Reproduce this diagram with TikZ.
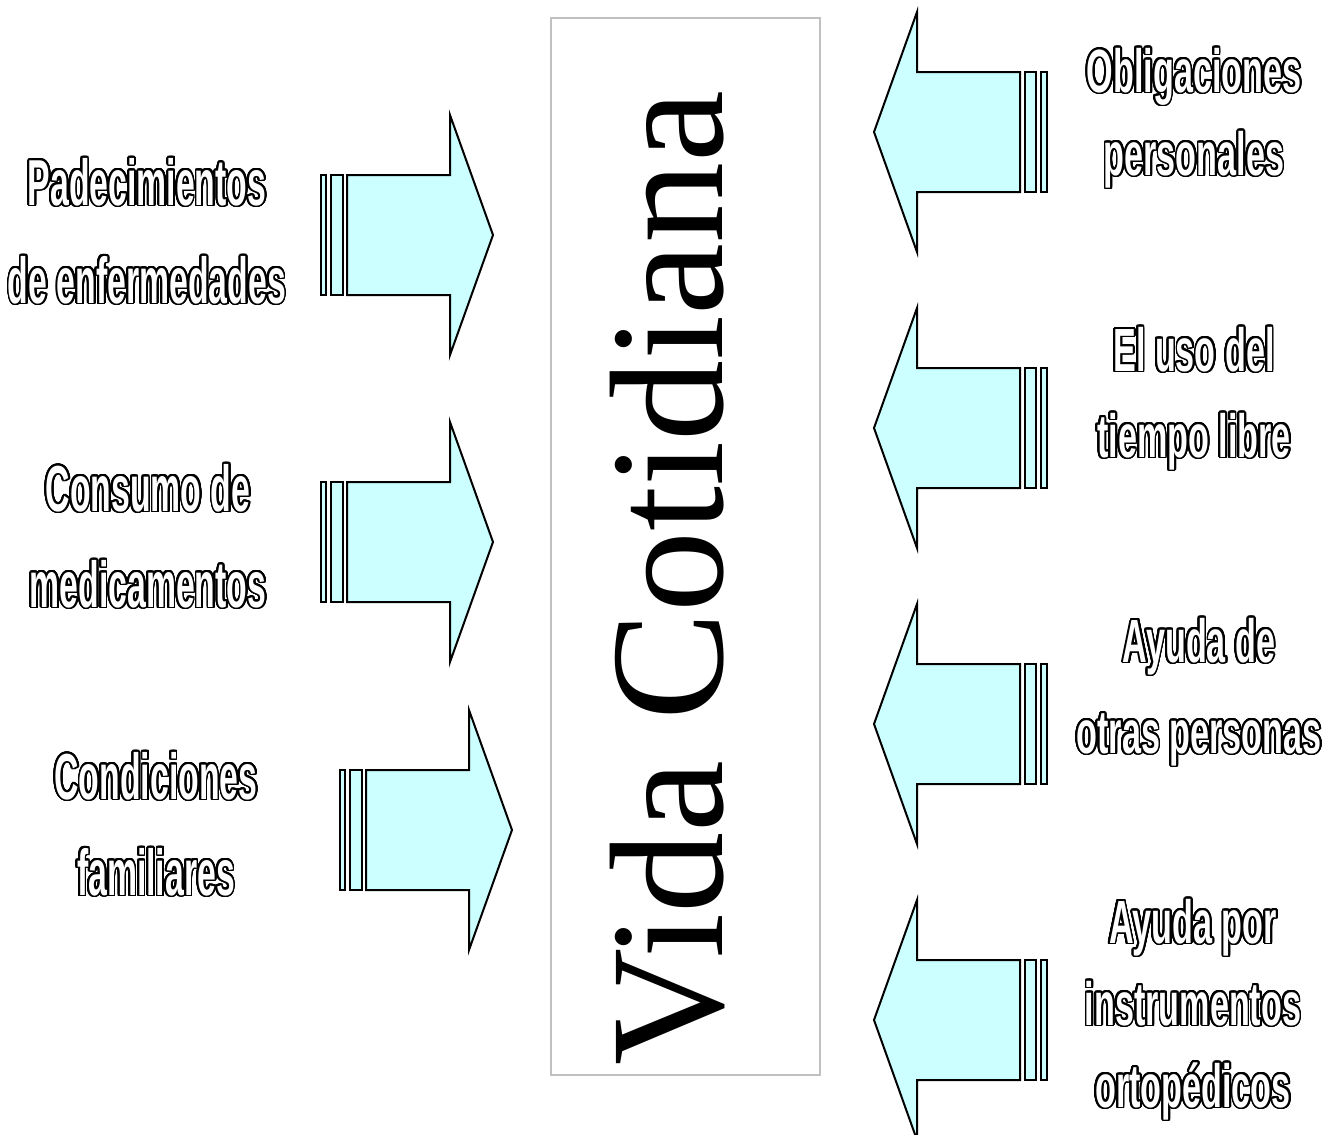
\documentclass[tikz,border=0pt]{standalone}
\usepackage{fontspec}
\usepackage{contour}
\setmainfont{Liberation Serif}
\newfontfamily\lblfontleft[FakeStretch=0.52]{Liberation Sans}
\newfontfamily\lblfontright[FakeStretch=0.56]{Liberation Sans}
\contourlength{0.9pt}
\contournumber{32}
\newcommand{\hollow}[1]{\contour{black}{#1}}
\definecolor{arrowcyan}{HTML}{CCFFFF}
\definecolor{framegray}{HTML}{C0C0C0}

\begin{document}
\begin{tikzpicture}[x=0.5pt, y=-0.5pt,
    lbl/.style={align=center, text=white, anchor=base, inner sep=0pt},
    lblleft/.style={lbl, font=\lblfontleft\bfseries\fontsize{32.5}{48}\selectfont},
    lblright/.style={lbl, font=\lblfontright\bfseries\fontsize{30.5}{43}\selectfont},
    blockarrow/.style={draw, fill=arrowcyan, line width=1pt, line join=miter}
]
\useasboundingbox (0,0) rectangle (1324,1135);

% central frame
\node[draw=framegray, line width=1pt, minimum width=134.5pt, minimum height=528.5pt, inner sep=0pt] (frame) at (685.5,546.5) {};
\node[rotate=90, anchor=base, inner sep=0pt, font=\fontsize{81}{90}\selectfont] (vida) at (722,578) {Vida Cotidiana};

% arrows from the left
\foreach \cy/\xo in {235/347, 542/347, 830/366} {
  \draw[blockarrow] (\xo-26,\cy-60) rectangle (\xo-21,\cy+60);
  \draw[blockarrow] (\xo-16,\cy-60) rectangle (\xo-4,\cy+60);
  \draw[blockarrow] (\xo,\cy-60) -- (\xo+103,\cy-60) -- (\xo+103,\cy-120) -- (\xo+146,\cy)
    -- (\xo+103,\cy+120) -- (\xo+103,\cy+60) -- (\xo,\cy+60) -- cycle;
}

% arrows from the right
\foreach \cy in {132, 428, 724, 1020} {
  \draw[blockarrow] (874,\cy) -- (917,\cy-120) -- (917,\cy-60) -- (1020,\cy-60)
    -- (1020,\cy+60) -- (917,\cy+60) -- (917,\cy+120) -- cycle;
  \draw[blockarrow] (1025,\cy-60) rectangle (1036,\cy+60);
  \draw[blockarrow] (1041,\cy-60) rectangle (1047,\cy+60);
}

% labels
\node[lblleft] (padec) at (147,303) {\hollow{Padecimientos}\\[1pt]\hollow{de enfermedades}};
\node[lblleft] (consumo) at (148,607) {\hollow{Consumo de}\\\hollow{medicamentos}};
\node[lblleft] (condic) at (156,895) {\hollow{Condiciones}\\\hollow{familiares}};

\node[lblright] (oblig) at (1194,175) {\hollow{Obligaciones}\\[-1.5pt]\hollow{personales}};
\node[lblright] (tiempo) at (1194,457) {\hollow{El uso del}\\\hollow{tiempo libre}};
\node[lblright] (otras) at (1199,753) {\hollow{Ayuda de}\\[2.5pt]\hollow{otras personas}};
\node[lblright] (instr) at (1193,1107) {\hollow{Ayuda por}\\[-2pt]\hollow{instrumentos}\\[-2pt]\hollow{ortopédicos}};
\end{tikzpicture}
\end{document}
